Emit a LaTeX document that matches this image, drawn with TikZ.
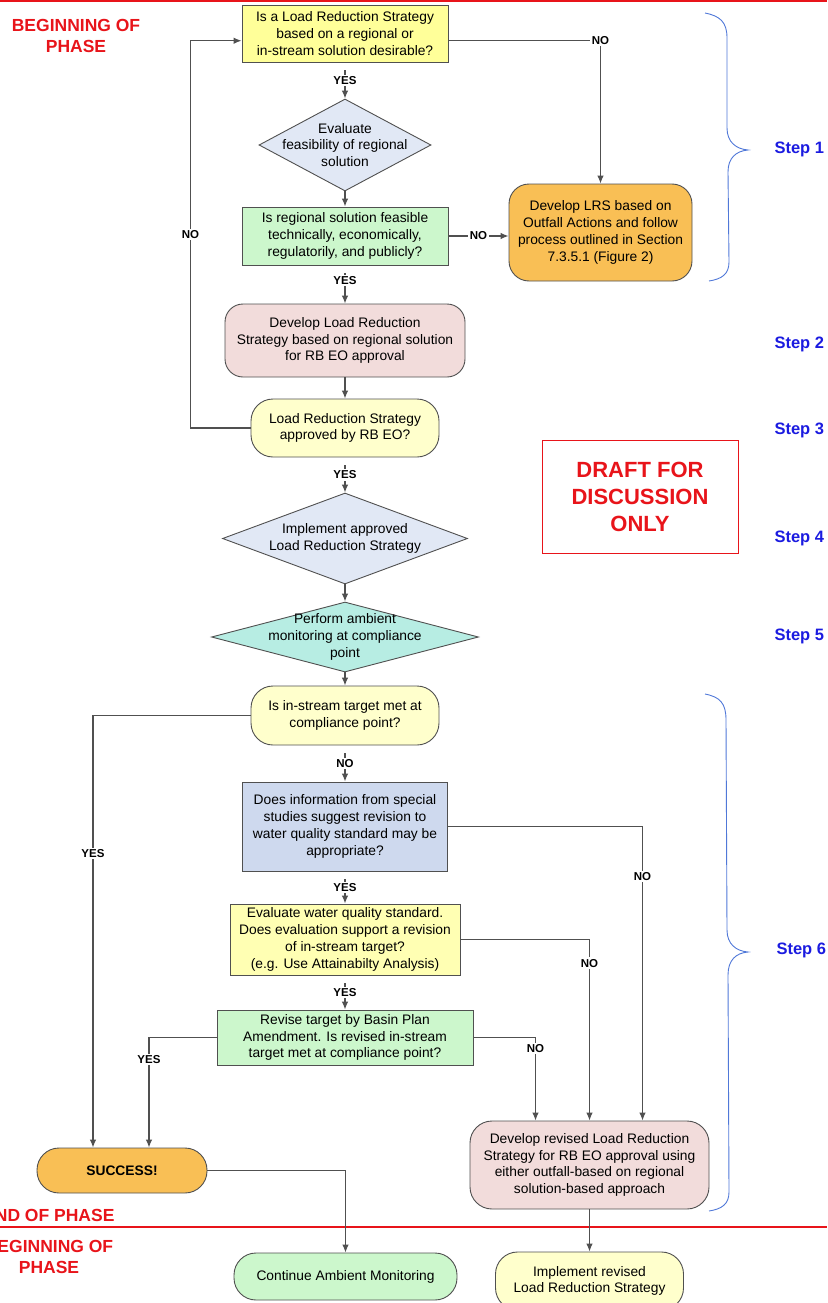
\documentclass[tikz,border=0pt]{standalone}
\usepackage{fontspec}
\setmainfont{Liberation Sans}
\usepackage{tikz}
\usetikzlibrary{arrows.meta,shapes.geometric}

\definecolor{linegray}{HTML}{505050}
\definecolor{boxyellow}{HTML}{FFFF99}
\definecolor{paleyellow}{HTML}{FFFFCC}
\definecolor{midyellow}{HTML}{FFFFB3}
\definecolor{boxgreen}{HTML}{CCF7CC}
\definecolor{boxpink}{HTML}{F2DCDB}
\definecolor{boxorange}{HTML}{F9BF55}
\definecolor{paleblue}{HTML}{E1E8F5}
\definecolor{greyblue}{HTML}{CED9EE}
\definecolor{boxteal}{HTML}{B7EDE3}
\definecolor{phasered}{HTML}{E8141A}
\definecolor{stepblue}{HTML}{1B1BE0}
\definecolor{braceblue}{HTML}{5078D8}

\newcommand\boxfont{\fontsize{13.8}{16.8}\selectfont}
\newcommand\lblfont{\fontsize{11.5}{13}\selectfont\bfseries}
\newcommand\steptextfont{\fontsize{16.5}{19}\selectfont\bfseries}
\newcommand\phasetextfont{\fontsize{17.5}{21}\selectfont\bfseries}
\newcommand\drafttextfont{\fontsize{22}{27}\selectfont\bfseries}

\tikzstyle{line} = [draw=linegray, line width=1.1pt, -{Latex[length=8pt,width=6.5pt]}]
\tikzstyle{vgap} = [shorten <=8pt]
\tikzstyle{box} = [draw=linegray, line width=0.9pt, align=center, inner sep=2pt, font=\boxfont]
\tikzstyle{rbox} = [box, rounded corners=18pt]
\tikzstyle{decision} = [diamond, draw=linegray, line width=0.9pt, inner sep=0pt]
\tikzstyle{txt} = [align=center, font=\boxfont, inner sep=0pt]
\tikzstyle{lbl} = [fill=white, font=\lblfont, inner sep=1.5pt]
\tikzstyle{steplbl} = [text=stepblue, font=\steptextfont, anchor=west]
\tikzstyle{phase} = [text=phasered, align=center, font=\phasetextfont]
\tikzstyle{brace} = [draw=braceblue, line width=0.9pt]

\begin{document}
\begin{tikzpicture}[x=1pt,y=-1pt]
    \useasboundingbox (0,0) rectangle (827,1303);

    % phase boundaries
    \draw[draw=phasered, line width=1.2pt] (0,1) -- (827,1);
    \draw[draw=phasered, line width=1.2pt] (0,1227) -- (827,1227);
    \node[phase] (beginA) at (76,36) {BEGINNING OF\\PHASE};
    \node[phase, anchor=east] (endB) at (118,1215) {END OF PHASE};
    \node[phase] (beginB) at (49,1257) {BEGINNING OF\\PHASE};

    % step 1
    \node[box, fill=boxyellow, minimum width=206pt, minimum height=57pt] (desire) at (345,33.5)
        {Is a Load Reduction Strategy\\based on a regional or\\in-stream solution desirable?};
    \node[decision, fill=paleblue, minimum width=172pt, minimum height=92pt] (evalfeas) at (345,145) {};
    \node[txt] (evalfeastxt) at (evalfeas) {Evaluate\\feasibility of regional\\solution};
    \node[box, fill=boxgreen, minimum width=206pt, minimum height=58pt] (feas) at (345,236)
        {Is regional solution feasible\\technically, economically,\\regulatorily, and publicly?};
    \node[rbox, fill=boxorange, minimum width=183pt, minimum height=97pt, rounded corners=20pt] (lrs) at (600.5,232.5)
        {Develop LRS based on\\Outfall Actions and follow\\process outlined in Section\\7.3.5.1 (Figure 2)};

    % steps 2 to 5
    \node[rbox, fill=boxpink, minimum width=240pt, minimum height=73pt] (devlrs) at (345,340.5)
        {Develop Load Reduction\\Strategy based on regional solution\\for RB EO approval};
    \node[rbox, fill=paleyellow, minimum width=188pt, minimum height=58pt, rounded corners=22pt] (appr) at (345,428)
        {Load Reduction Strategy\\approved by RB EO?};
    \node[decision, fill=paleblue, minimum width=245pt, minimum height=91pt] (implement) at (345,538.5) {};
    \node[txt] (implementtxt) at (implement) {Implement approved\\Load Reduction Strategy};
    \node[decision, fill=boxteal, minimum width=267pt, minimum height=70pt] (perf) at (345,637) {};
    \node[txt] (perftxt) at (perf) {Perform ambient\\monitoring at compliance\\point};

    % step 6
    \node[rbox, fill=paleyellow, minimum width=188pt, minimum height=59pt, rounded corners=22pt] (met) at (345,715.5)
        {Is in-stream target met at\\compliance point?};
    \node[box, fill=greyblue, minimum width=205pt, minimum height=89pt] (spec) at (345,826.5)
        {Does information from special\\studies suggest revision to\\water quality standard may be\\appropriate?};
    \node[box, fill=midyellow, minimum width=230pt, minimum height=71pt, inner sep=1pt] (evalwq) at (345,939.5)
        {Evaluate water quality standard.\\Does evaluation support a revision\\of in-stream target?\\(e.g. Use Attainabilty Analysis)};
    \node[box, fill=boxgreen, minimum width=256pt, minimum height=55pt, inner sep=1pt] (rev) at (345,1037.5)
        {Revise target by Basin Plan\\Amendment. Is revised in-stream\\target met at compliance point?};
    \node[rbox, fill=boxorange, minimum width=170pt, minimum height=45pt, rounded corners=22pt, font=\boxfont\bfseries] (success) at (122,1170.5)
        {SUCCESS!};
    \node[rbox, fill=boxpink, minimum width=239pt, minimum height=88pt, rounded corners=22pt] (revlrs) at (589.5,1165)
        {Develop revised Load Reduction\\Strategy for RB EO approval using\\either outfall-based on regional\\solution-based approach};

    % next phase
    \node[rbox, fill=boxgreen, minimum width=223pt, minimum height=47pt, rounded corners=22pt] (cont) at (345.5,1276.5)
        {Continue Ambient Monitoring};
    \node[rbox, fill=paleyellow, minimum width=188pt, minimum height=58pt, rounded corners=22pt] (impl) at (589.5,1281)
        {Implement revised\\Load Reduction Strategy};

    % draft stamp
    \node[draw=phasered, line width=0.9pt, text=phasered, font=\drafttextfont, align=center,
        minimum width=196pt, minimum height=113pt] (draft) at (640,496.5) {DRAFT FOR\\DISCUSSION\\ONLY};

    % step labels and braces
    \node[steplbl] (step1) at (771,149) {Step 1};
    \node[steplbl] (step2) at (771,344) {Step 2};
    \node[steplbl] (step3) at (771,430) {Step 3};
    \node[steplbl] (step4) at (771,538) {Step 4};
    \node[steplbl] (step5) at (771,636) {Step 5};
    \node[steplbl] (step6) at (773,950) {Step 6};
    \draw[brace] (705,13) .. controls (720,16) and (727,22) .. (727,38) -- (727,128)
        .. controls (727,142) and (736,149) .. (748,150) .. controls (736,151) and (728,158) .. (728,172)
        -- (729,262) .. controls (729,274) and (722,279) .. (709,281);
    \draw[brace] (705,694) .. controls (720,697) and (726,703) .. (726,720) -- (727,930)
        .. controls (727,944) and (736,951) .. (748,952) .. controls (736,953) and (728,960) .. (728,975)
        -- (729,1192) .. controls (729,1204) and (722,1209) .. (709,1211);

    % connectors
    \path[line, vgap] (desire) -- node[lbl]{YES} (evalfeas);
    \path[line] (evalfeas) -- (feas);
    \path[line, vgap] (feas) -- node[lbl, pos=0.4]{YES} (devlrs);
    \path[line] (desire.-4) -| node[lbl]{NO} (lrs.north);
    \path[line] (feas.east) -- node[lbl]{NO} (feas.east -| lrs.west);
    \path[line] (devlrs) -- (appr);
    \path[line] (appr.west) -- ++(-60,0) |- node[lbl, pos=0.25]{NO} (desire.184);
    \path[line, vgap] (appr) -- node[lbl]{YES} (implement);
    \path[line] (implement) -- (perf);
    \path[line] (perf) -- (met);
    \path[line, vgap] (met) -- node[lbl]{NO} (spec);
    \path[line, vgap] (spec) -- node[lbl]{YES} (evalwq);
    \path[line, vgap] (evalwq) -- node[lbl]{YES} (rev);
    \path[line] (met.west) -| node[lbl, pos=0.66]{YES} ([xshift=-29pt]success.north);
    \path[line] (rev.west) -| node[lbl, pos=0.6]{YES} ([xshift=27pt]success.north);
    \path[line] (spec.east) -| node[lbl, pos=0.585]{NO} ([xshift=53pt]revlrs.north);
    \path[line] (evalwq.east) -| node[lbl, pos=0.565]{NO} (revlrs.north);
    \path[line] (rev.east) -| node[lbl, pos=0.565]{NO} ([xshift=-54pt]revlrs.north);
    \path[line] (success.east) -| (cont.north);
    \path[line] (revlrs) -- (impl);

\end{tikzpicture}
\end{document}
